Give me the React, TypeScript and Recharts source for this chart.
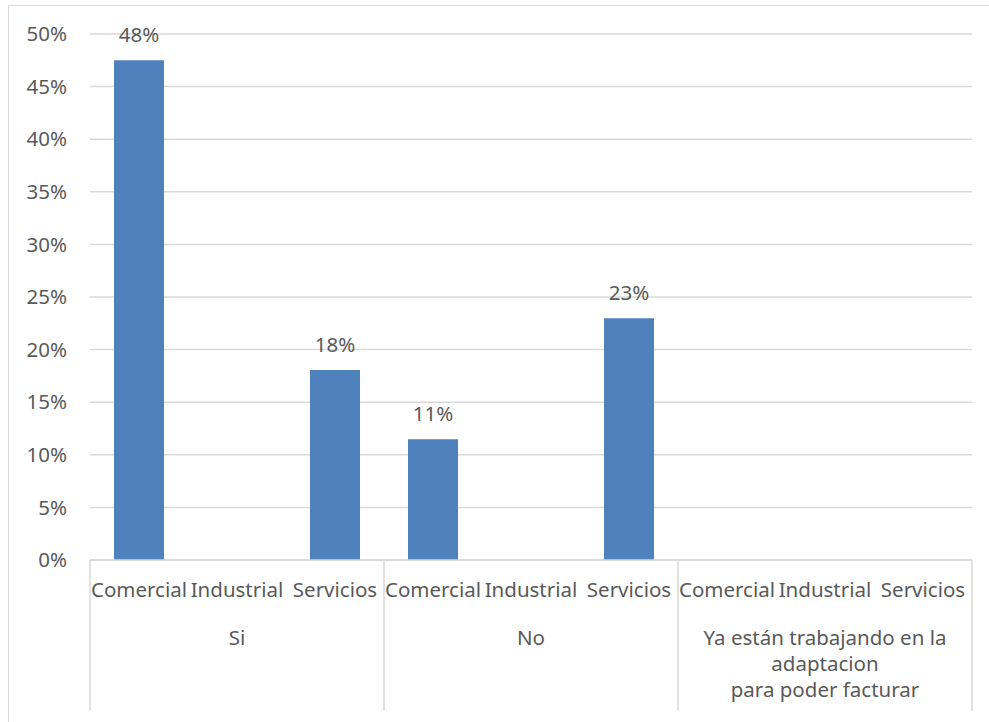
import { BarChart, Bar, XAxis, YAxis, CartesianGrid, LabelList } from 'recharts';

// chart values (percent)
const categories = ['Comercial', 'Industrial', 'Servicios'];
const groups = ['Si', 'No', 'Ya están trabajando en la adaptacion para poder facturar'];
// how the long group label wraps under the axis
const groupLines: string[][] = [
  ['Si'],
  ['No'],
  ['Ya están trabajando en la', 'adaptacion', 'para poder facturar'],
];
const siValues = [47.5, null, 18.05];
const noValues = [11.47, null, 22.97];
const yaValues = [null, null, null];
const yTicks = [0, 5, 10, 15, 20, 25, 30, 35, 40, 45, 50];

const FONT = '"Noto Sans", "Open Sans", sans-serif';
const TEXT = '#595959';
const LINE = '#d9d9d9';
const FS = 20.5;

const rows = [siValues, noValues, yaValues].flatMap((vals, g) =>
  categories.map((c, i) => ({
    key: `${groups[g]}-${c}`,
    cat: c,
    group: groups[g],
    value: vals[i],
  }))
);

function CategoryTick(props: any) {
  const { x, y, payload } = props;
  const label = String(payload.value).split('-').slice(-1)[0];
  return (
    <text x={x} y={y + 37} textAnchor="middle" fill={TEXT} fontSize={FS} fontFamily={FONT}>
      {label}
    </text>
  );
}

function GroupTick(props: any) {
  const { x, y, payload, index, visibleTicksCount } = props;
  const half = payload.offset || 147;
  const gi = groups.indexOf(payload.value);
  const lines = groupLines[gi] || [payload.value];
  return (
    <g>
      <line x1={x - half} x2={x - half} y1={y - 50} y2={y + 101} stroke={LINE} strokeWidth={1.5} />
      {index === visibleTicksCount - 1 && (
        <line x1={x + half} x2={x + half} y1={y - 50} y2={y + 101} stroke={LINE} strokeWidth={1.5} />
      )}
      <text textAnchor="middle" fill={TEXT} fontSize={FS} fontFamily={FONT}>
        {lines.map((l, i) => (
          <tspan key={i} x={x} y={y + 35 + i * 26}>
            {l}
          </tspan>
        ))}
      </text>
    </g>
  );
}

function ValueLabel(props: any) {
  const { x, y, width, value } = props;
  if (value == null) return null;
  return (
    <text x={x + width / 2} y={y - 18} textAnchor="middle" fill={TEXT} fontSize={FS} fontFamily={FONT}>
      {`${Math.round(value)}%`}
    </text>
  );
}

export default function App() {
  return (
    <div
      style={{
        position: 'fixed',
        left: 8,
        top: 5,
        width: 981,
        height: 717,
        boxSizing: 'border-box',
        borderTop: `1.5px solid ${LINE}`,
        borderLeft: `1.5px solid ${LINE}`,
        background: '#fff',
      }}
    >
      <BarChart
        width={980}
        height={716}
        data={rows}
        margin={{ top: 28, right: 17, left: 0, bottom: 0 }}
        barSize={50}
      >
        <CartesianGrid horizontal vertical={false} stroke={LINE} strokeWidth={1.5} />
        <YAxis
          width={81}
          domain={[0, 50]}
          ticks={yTicks}
          tickFormatter={(v) => `${v}%`}
          axisLine={false}
          tickLine={false}
          tickSize={0}
          tickMargin={23}
          tick={{ fill: TEXT, fontSize: FS, fontFamily: FONT }}
        />
        <XAxis
          dataKey="key"
          height={50}
          interval={0}
          tickSize={0}
          tickMargin={0}
          tickLine={false}
          axisLine={{ stroke: LINE, strokeWidth: 1.5 }}
          tick={<CategoryTick />}
        />
        <XAxis
          xAxisId="group"
          dataKey="group"
          allowDuplicatedCategory={false}
          height={112}
          interval={0}
          tickSize={0}
          tickMargin={0}
          tickLine={false}
          axisLine={false}
          tick={<GroupTick />}
        />
        <Bar dataKey="value" fill="#4f81bd" isAnimationActive={false}>
          <LabelList dataKey="value" content={<ValueLabel />} />
        </Bar>
      </BarChart>
    </div>
  );
}
